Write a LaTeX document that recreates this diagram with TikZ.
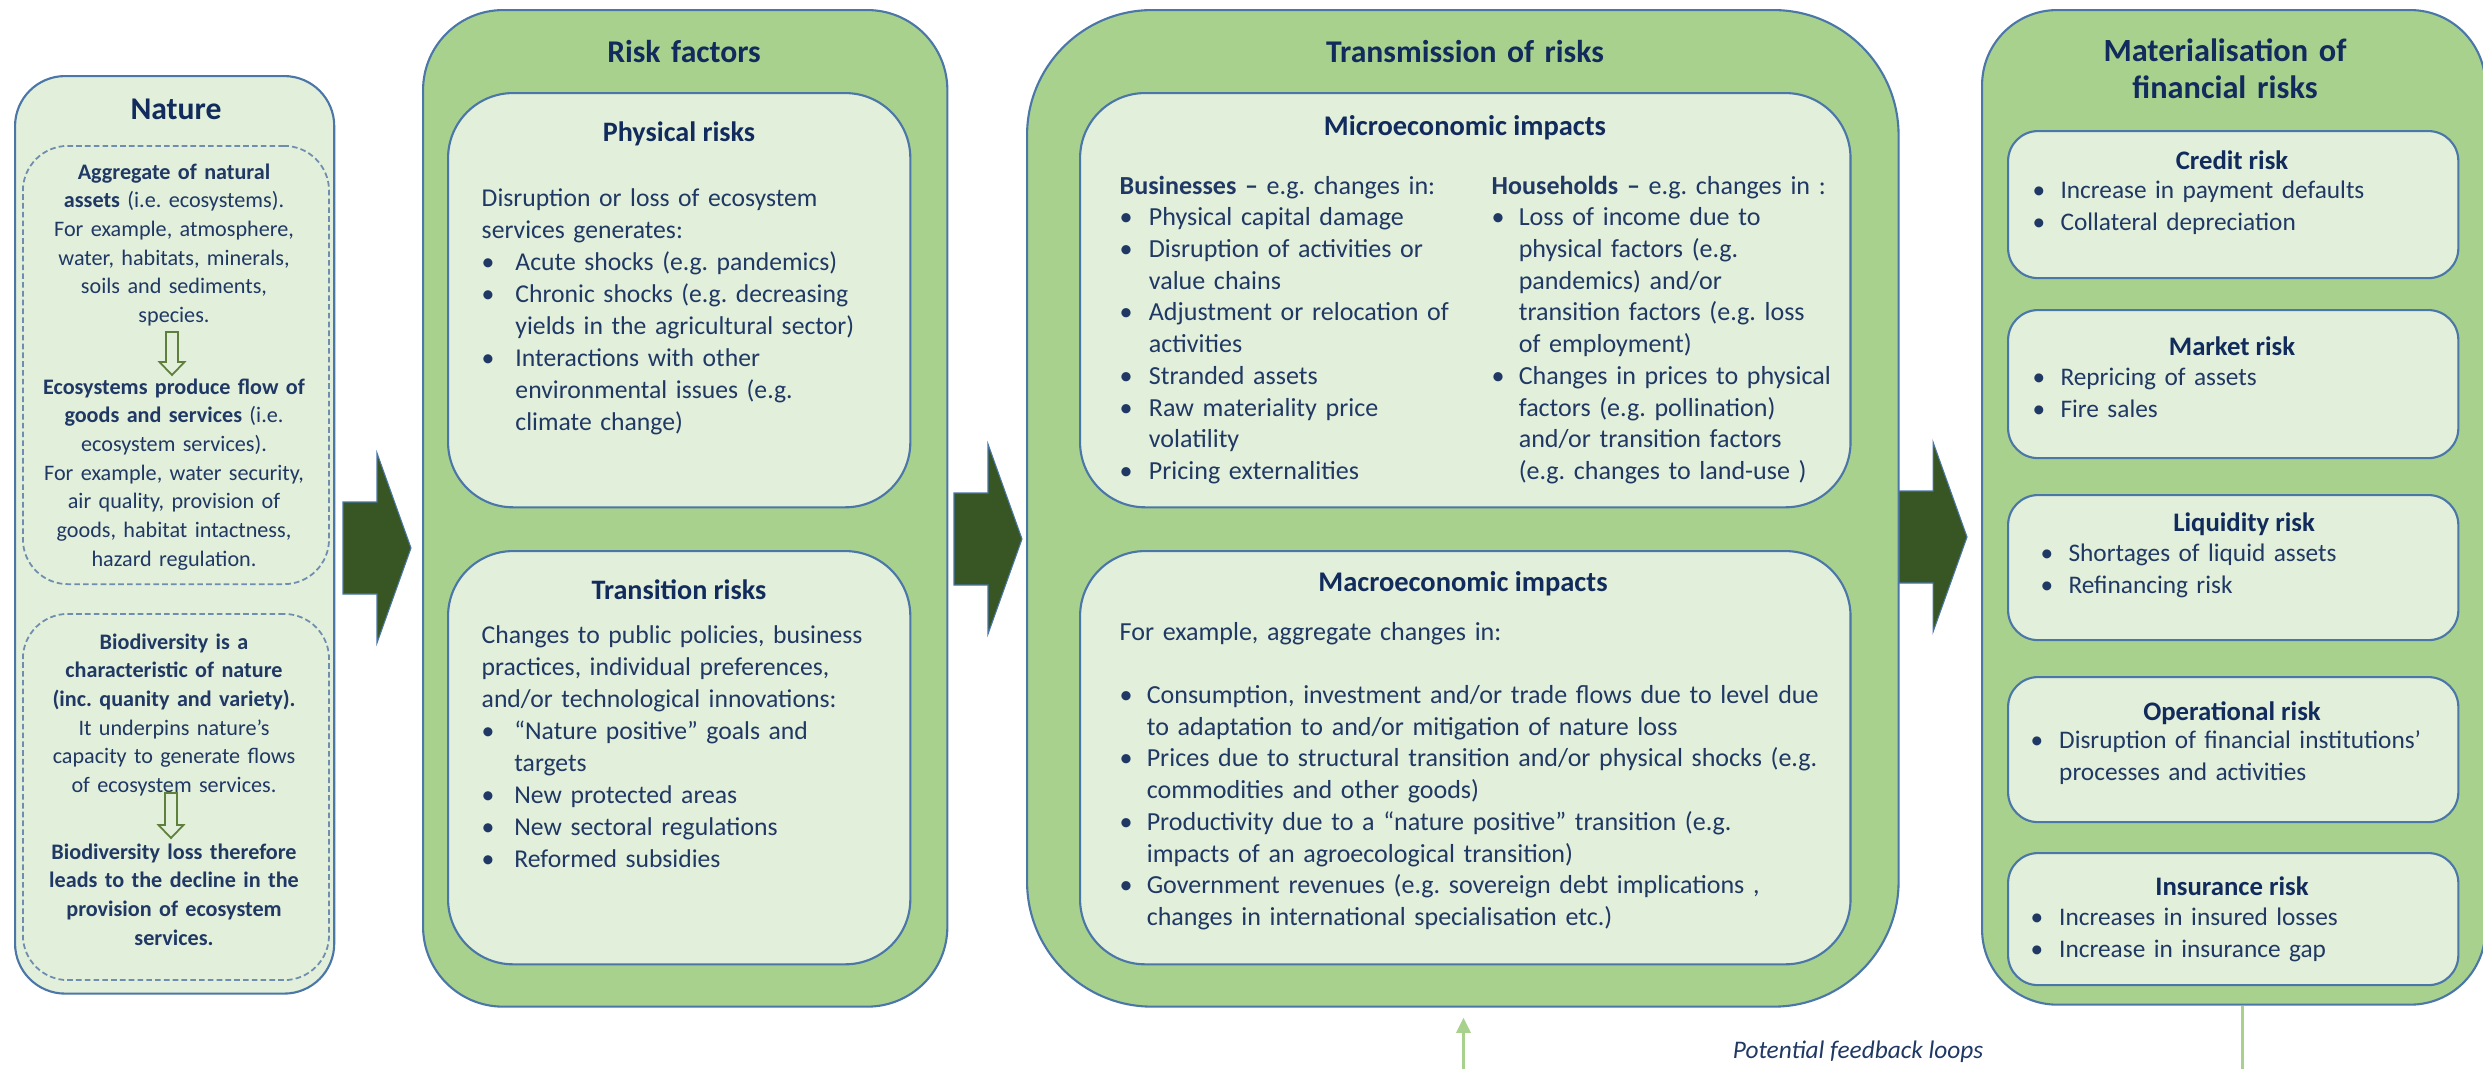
\documentclass[tikz,border=0pt]{standalone}
\usepackage{fontspec}
\setmainfont{Carlito}
\usetikzlibrary{positioning, arrows.meta, calc}
\definecolor{outergreen}{HTML}{A9D18E}
\definecolor{innergreen}{HTML}{E2EFDA}
\definecolor{edgeblue}{HTML}{4A76A8}
\definecolor{dashblue}{HTML}{6F8DAE}
\definecolor{arrowgreen}{HTML}{375623}
\definecolor{olivearrow}{HTML}{5F7F3C}
\definecolor{navytext}{HTML}{1F3864}
\definecolor{navyhead}{HTML}{112B5C}
\newcommand{\bitem}[2][8.3pt]{\hangindent=#1\hangafter=1\noindent\makebox[#1][l]{\textbullet}#2\par}

\tikzset{
  colbox/.style={draw=edgeblue, line width=0.6pt, fill=outergreen, rounded corners=0.8cm,
    inner sep=0pt, anchor=north west},
  subbox/.style={colbox, fill=innergreen, rounded corners=0.65cm},
  riskbox/.style={colbox, fill=innergreen, rounded corners=0.3cm, minimum width=4.5cm},
  dashbox/.style={draw=dashblue, dash pattern=on 1.6pt off 0.9pt, line width=0.5pt,
    fill=innergreen, rounded corners=0.45cm, inner sep=0pt, anchor=north west, minimum width=3.06cm},
  colhead/.style={font=\fontsize{9}{10.8}\selectfont\bfseries, text=navyhead, anchor=base,
    align=center, inner sep=0pt, text width=4.5cm},
  subhead/.style={font=\fontsize{8}{9.1}\selectfont\bfseries, text=navyhead, anchor=base,
    align=center, inner sep=0pt},
  mathead/.style={subhead, font=\fontsize{7.6}{9.1}\selectfont\bfseries},
  bodytext/.style={font=\fontsize{7.3}{9.1}\selectfont, text=navytext, anchor=base west,
    align=left, inner sep=0pt, text width=4.2cm},
  transtext/.style={bodytext, font=\fontsize{7.4}{9.02}\selectfont},
  mattext/.style={bodytext, font=\fontsize{7.2}{9.1}\selectfont},
  naturetext/.style={font=\fontsize{6.3}{8.17}\selectfont, text=navytext, anchor=base,
    align=center, inner sep=0pt, text width=3cm},
  bigarrow/.style={fill=arrowgreen, draw=edgeblue, line width=0.3pt},
  flowarrow/.style={fill=innergreen, draw=olivearrow, line width=0.5pt},
  fbline/.style={draw=outergreen, line width=0.85pt}
}

\begin{document}
\frenchspacing
\begin{tikzpicture}[x=0.01cm, y=-0.01cm]
  \useasboundingbox (0,0) rectangle (2483,1069);

  % Column boxes
  \node[colbox, fill=innergreen, rounded corners=0.5cm, minimum width=3.19cm, minimum height=9.17cm] (nature) at (14,75) {};
  \node[colbox, minimum width=5.24cm, minimum height=9.96cm] (risk) at (422,9) {};
  \node[colbox, rounded corners=1.25cm, minimum width=8.71cm, minimum height=9.96cm] (trans) at (1026,9) {};
  \node[colbox, rounded corners=0.75cm, minimum width=5.03cm, minimum height=9.94cm] (mat) at (1981,9) {};

  % Inner boxes
  \node[dashbox, minimum height=4.38cm] (stock) at (22,145) {};
  \node[dashbox, minimum height=3.66cm] (biodiv) at (22,613) {};
  \node[subbox, minimum width=4.62cm, minimum height=4.14cm] (phys) at (447,92) {};
  \node[subbox, minimum width=4.62cm, minimum height=4.13cm] (trns) at (447,550) {};
  \node[subbox, minimum width=7.70cm, minimum height=4.14cm] (micro) at (1079,92) {};
  \node[subbox, minimum width=7.70cm, minimum height=4.13cm] (macro) at (1079,550) {};
  \foreach \nm/\yt/\hgt in {credit/130/1.47, market/309/1.48, liquid/494/1.45, oper/676/1.45, insur/852/1.32}
    \node[riskbox, minimum height=\hgt cm] (\nm) at (2007,\yt) {};

  % Headings
  \node[colhead] (naturehd) at (176,119) {Nature};
  \node[colhead] (riskhd) at (684,62) {Risk factors};
  \node[colhead] (transhd) at (1465,62) {Transmission of risks};
  \node[colhead, font=\fontsize{9.2}{10.8}\selectfont\bfseries] (mathd) at (2225,61) {Materialisation of\\ financial risks};

  % Nature
  \node[naturetext] (stockA) at (174,179) {\textbf{Aggregate of natural}\\ \textbf{assets} (i.e. ecosystems).\\
    For example, atmosphere,\\ water, habitats, minerals,\\ soils and sediments,\\ species.};
  \node[naturetext] (stockB) at (174,394) {\textbf{Ecosystems produce flow of}\\ \textbf{goods and services} (i.e.\\
    ecosystem services).\\ For example, water security,\\ air quality, provision of\\ goods, habitat intactness,\\ hazard regulation.};
  \node[naturetext] (biodivA) at (174,649) {\textbf{Biodiversity is a}\\ \textbf{characteristic of nature}\\
    \textbf{(inc. quanity and variety).}\\ It underpins nature’s\\ capacity to generate flows\\ of ecosystem services.};
  \node[naturetext, font=\fontsize{6.3}{8.17}\selectfont\bfseries] (biodivB) at (174,859) {Biodiversity loss therefore\\
    leads to the decline in the\\ provision of ecosystem\\ services.};

  % Hollow arrows inside Nature
  \foreach \nm/\xt/\yt/\len in {flowA/172/332/30, flowB/171/793/32}{
    \coordinate (\nm) at (\xt,\yt);
    \filldraw[flowarrow] (\nm) ++(-6,0) -- ++(0,\len) -- ++(-6.5,0) -- ++(12.5,13)
      -- ++(12.5,-13) -- ++(-6.5,0) -- ++(0,-\len) -- cycle;
  }

  % Risk factors
  \node[subhead] (physhd) at (679,141) {Physical risks};
  \node[bodytext] (physbody) at (481,206) {Disruption or loss of ecosystem\newline services generates:\par
    \bitem[9.6pt]{Acute shocks (e.g. pandemics)}
    \bitem[9.6pt]{Chronic shocks (e.g. decreasing\newline yields in the agricultural sector)}
    \bitem[9.6pt]{Interactions with other\newline environmental issues (e.g.\newline climate change)}};
  \node[subhead] (trnshd) at (679,599) {Transition risks};
  \node[bodytext] (trnsbody) at (481,643) {Changes to public policies, business\newline practices, individual preferences,\newline
    and/or technological innovations:\par
    \bitem[9.3pt]{“Nature positive” goals and\newline targets}
    \bitem[9.3pt]{New protected areas}
    \bitem[9.3pt]{New sectoral regulations}
    \bitem[9.3pt]{Reformed subsidies}};

  % Transmission of risks
  \node[subhead, font=\fontsize{8.1}{9.1}\selectfont\bfseries] (microhd) at (1465,135) {Microeconomic impacts};
  \node[transtext, text width=3.6cm] (business) at (1119,194) {\textbf{Businesses –} e.g. changes in:\par
    \bitem{Physical capital damage}
    \bitem{Disruption of activities or\newline value chains}
    \bitem{Adjustment or relocation of\newline activities}
    \bitem{Stranded assets}
    \bitem{Raw materiality price\newline volatility}
    \bitem{Pricing externalities}};
  \node[transtext, text width=3.6cm] (household) at (1491,194) {\textbf{Households –} e.g. changes in :\par
    \bitem[7.7pt]{Loss of income due to\newline physical factors (e.g.\newline pandemics) and/or\newline
      transition factors (e.g. loss\newline of employment)}
    \bitem[7.7pt]{Changes in prices to physical\newline factors (e.g. pollination)\newline
      and/or transition factors\newline (e.g. changes to land-use )}};
  \node[subhead, font=\fontsize{8.1}{9.1}\selectfont\bfseries] (macrohd) at (1463,591) {Macroeconomic impacts};
  \node[transtext, text width=7.5cm] (macrobody) at (1119,640) {For example, aggregate changes in:\par\mbox{}\par
    \bitem[7.7pt]{Consumption, investment and/or trade flows due to level due\newline to adaptation to and/or mitigation of nature loss}
    \bitem[7.7pt]{Prices due to structural transition and/or physical shocks (e.g.\newline commodities and other goods)}
    \bitem[7.7pt]{Productivity due to a “nature positive” transition (e.g.\newline impacts of an agroecological transition)}
    \bitem[7.7pt]{Government revenues (e.g. sovereign debt implications ,\newline changes in international specialisation etc.)}};

  % Materialisation of financial risks
  \node[mathead] (credithd) at (2232,169) {Credit risk};
  \node[mattext] (creditbody) at (2032,198) {\bitem[7.9pt]{Increase in payment defaults}
    \bitem[7.9pt]{Collateral depreciation}};
  \node[mathead] (markethd) at (2232,355) {Market risk};
  \node[mattext] (marketbody) at (2032,385) {\bitem[7.9pt]{Repricing of assets}
    \bitem[7.9pt]{Fire sales}};
  \node[mathead] (liquidhd) at (2244,531) {Liquidity risk};
  \node[mattext] (liquidbody) at (2040,561) {\bitem[7.9pt]{Shortages of liquid assets}
    \bitem[7.9pt]{Refinancing risk}};
  \node[mathead] (operhd) at (2232,720) {Operational risk};
  \node[mattext] (operbody) at (2030,748) {\bitem[8.1pt]{Disruption of financial institutions’\newline processes and activities}};
  \node[mathead] (insurhd) at (2232,895) {Insurance risk};
  \node[mattext] (insurbody) at (2030,925) {\bitem[8.1pt]{Increases in insured losses}
    \bitem[8.1pt]{Increase in insurance gap}};

  % Block arrows between the columns
  \foreach \nm/\xt/\yt in {arrA/343/548, arrB/954/539, arrC/1899/537}{
    \coordinate (\nm) at (\xt,\yt);
    \filldraw[bigarrow] (\nm) ++(0,-46) -- ++(34,0) -- ++(0,-49) -- ++(34,95)
      -- ++(-34,95) -- ++(0,-49) -- ++(-34,0) -- cycle;
  }

  % Feedback loops
  \coordinate (fbA) at (1463.5,1069);
  \coordinate (fbC) at (2242,1069);
  \draw[fbline, -{Triangle[width=4pt, length=4.3pt]}] (fbA) -- ($(trans.south -| fbA)+(0,10)$);
  \draw[fbline] (mat.south -| fbC) -- (fbC);
  \node[font=\fontsize{7.2}{8.6}\selectfont\itshape, text=navytext, inner sep=0pt] (fbnote) at (1858,1052) {Potential feedback loops};
\end{tikzpicture}
\end{document}
